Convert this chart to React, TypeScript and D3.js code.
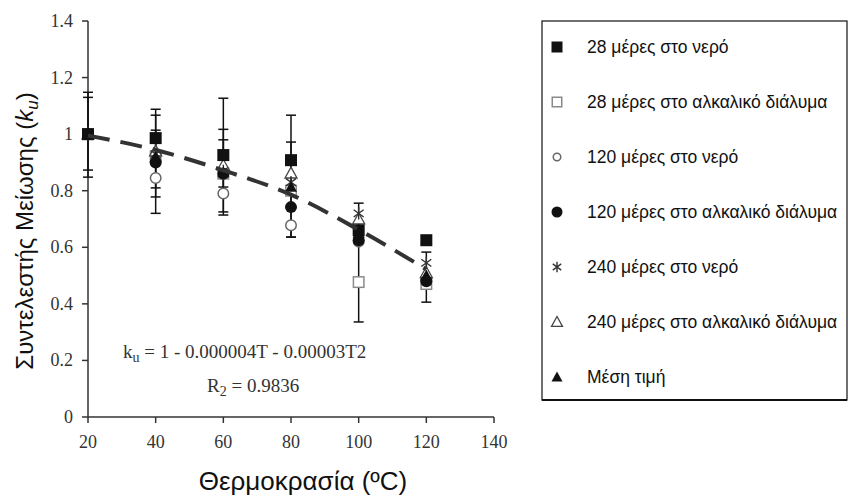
import React from "react";
import * as d3 from "d3";

// ---- data ----
const temps = [20, 40, 60, 80, 100, 120];
const s28Water = [1.0, 0.986, 0.926, 0.908, 0.66, 0.625];
const s28Alk = [1.0, 0.92, 0.86, 0.8, 0.477, 0.47];
const s120Water = [1.0, 0.845, 0.79, 0.678, 0.62, 0.49];
const s120Alk = [1.0, 0.9, 0.86, 0.742, 0.625, 0.48];
const s240Water = [1.0, 0.93, 0.87, 0.83, 0.72, 0.545];
const s240Alk = [1.0, 0.94, 0.89, 0.862, 0.7, 0.51];
const sMean = [1.0, 0.92, 0.865, 0.813, 0.65, 0.5];

const errT = [20, 20, 40, 40, 40, 60, 60, 60, 80, 80, 100, 120];
const errLow = [0.848, 0.873, 0.72, 0.778, 0.81, 0.714, 0.725, 0.813, 0.636, 0.636, 0.336, 0.406];
const errHigh = [1.148, 1.13, 1.088, 1.067, 1.014, 1.127, 1.017, 0.98, 1.067, 0.972, 0.756, 0.583];

const fitT = [20, 40, 60, 80, 100, 120];
const fitK = [0.995, 0.944, 0.872, 0.786, 0.662, 0.522];

const xTicks = [20, 40, 60, 80, 100, 120, 140];
const yTicks = [0, 0.2, 0.4, 0.6, 0.8, 1.0, 1.2, 1.4];
const yTickLabels = ["0", "0.2", "0.4", "0.6", "0.8", "1", "1.2", "1.4"];

const legendLabels = [
  "28 μέρες στο νερό",
  "28 μέρες στο αλκαλικό διάλυμα",
  "120 μέρες στο νερό",
  "120 μέρες στο αλκαλικό διάλυμα",
  "240 μέρες στο νερό",
  "240 μέρες στο αλκαλικό διάλυμα",
  "Μέση τιμή",
];
const seriesSymbols = ["fsquare", "osquare", "ocircle", "fcircle", "aster", "otri", "ftri"];
const seriesValues = [s28Water, s28Alk, s120Water, s120Alk, s240Water, s240Alk, sMean];
// draw order (back to front)
const drawOrder = [1, 2, 5, 4, 3, 6, 0];

const W = 849;
const H = 500;
const x = d3.scaleLinear().domain([20, 140]).range([88, 494]);
const y = d3.scaleLinear().domain([0, 1.4]).range([417, 21]);

function Marker({ kind, cx, cy, s }: { kind: string; cx: number; cy: number; s: number }) {
  const h = s / 2;
  switch (kind) {
    case "fsquare":
      return <rect x={cx - h} y={cy - h} width={s} height={s} fill="#111" />;
    case "osquare":
      return <rect x={cx - h + 0.75} y={cy - h + 0.75} width={s - 1.5} height={s - 1.5} fill="white" stroke="#8a8a8a" strokeWidth={1.5} />;
    case "ocircle":
      return <circle cx={cx} cy={cy} r={h - 0.75} fill="white" stroke="#666" strokeWidth={1.5} />;
    case "fcircle":
      return <circle cx={cx} cy={cy} r={h} fill="#111" />;
    case "aster": {
      const a = h * 0.95;
      const dx = a * Math.cos(Math.PI / 5);
      const dy = a * Math.sin(Math.PI / 5);
      const p = `M${cx},${cy - a}L${cx},${cy + a}M${cx - dx},${cy - dy}L${cx + dx},${cy + dy}M${cx - dx},${cy + dy}L${cx + dx},${cy - dy}`;
      return <path d={p} stroke="#333" strokeWidth={1.4} fill="none" />;
    }
    case "otri": {
      const p = `M${cx},${cy - h}L${cx + h},${cy + h * 0.8}L${cx - h},${cy + h * 0.8}Z`;
      return <path d={p} fill="white" stroke="#444" strokeWidth={1.3} />;
    }
    case "ftri": {
      const p = `M${cx},${cy - h}L${cx + h},${cy + h * 0.8}L${cx - h},${cy + h * 0.8}Z`;
      return <path d={p} fill="#111" />;
    }
  }
  return null;
}

export default function App() {
  const fitLine = d3
    .line<number>()
    .x((_, i) => x(fitT[i]))
    .y((d) => y(d))
    .curve(d3.curveMonotoneX)(fitK) as string;

  const legendX = 557;
  const textX = 587;
  const base0 = 53;
  const step = 55;

  return (
    <svg
      width={W}
      height={H}
      style={{ position: "absolute", left: 0, top: 0, background: "white" }}
      xmlns="http://www.w3.org/2000/svg"
    >
      <rect x={0} y={0} width={W} height={H} fill="white" />
      {/* axes */}
      <g stroke="#333" strokeWidth={1.5} fill="none">
        <line x1={x(20)} y1={y(0)} x2={x(140)} y2={y(0)} />
        <line x1={x(20)} y1={y(0)} x2={x(20)} y2={y(1.4)} />
        {xTicks.map((t) => (
          <line key={"xt" + t} x1={x(t)} x2={x(t)} y1={y(0)} y2={y(0) + 6} />
        ))}
        {yTicks.map((t) => (
          <line key={"yt" + t} x1={x(20) - 6} x2={x(20)} y1={y(t)} y2={y(t)} />
        ))}
      </g>
      <g fontFamily="'Liberation Serif', 'Times New Roman', serif" fontSize={18} fill="#333">
        {xTicks.map((t) => (
          <text key={"xl" + t} x={x(t)} y={y(0) + 31} textAnchor="middle">
            {t}
          </text>
        ))}
        {yTicks.map((t, i) => (
          <text key={"yl" + t} x={x(20) - 15} y={y(t) + 6} textAnchor="end">
            {yTickLabels[i]}
          </text>
        ))}
      </g>
      {/* axis titles */}
      <text
        x={303}
        y={490}
        textAnchor="middle"
        fontFamily="'Liberation Sans', Arial, sans-serif"
        fontSize={26}
        fill="#111"
      >
        Θερμοκρασία (ºC)
      </text>
      <text
        transform="translate(33,231) rotate(-90)"
        textAnchor="middle"
        fontFamily="'Liberation Sans', Arial, sans-serif"
        fontSize={24}
        fill="#111"
      >
        Συντελεστής Μείωσης (<tspan fontStyle="italic">k</tspan>
        <tspan fontStyle="italic" fontSize={17} dy={5}>u</tspan>
        <tspan dy={-5}>)</tspan>
      </text>

      {/* error bars */}
      <g stroke="#111" strokeWidth={1.5}>
        {errT.map((t, i) => (
          <g key={"e" + i}>
            <line x1={x(t)} x2={x(t)} y1={y(errLow[i])} y2={y(errHigh[i])} />
            <line x1={x(t) - 5} x2={x(t) + 5} y1={y(errLow[i])} y2={y(errLow[i])} />
            <line x1={x(t) - 5} x2={x(t) + 5} y1={y(errHigh[i])} y2={y(errHigh[i])} />
          </g>
        ))}
      </g>

      {/* markers */}
      {drawOrder.map((si) =>
        seriesValues[si].map((v, i) => (
          <Marker key={si + "-" + i} kind={seriesSymbols[si]} cx={x(temps[i])} cy={y(v)} s={si === 4 ? 13 : 12} />
        ))
      )}

      {/* fit line */}
      <path d={fitLine} fill="none" stroke="#333" strokeWidth={4} strokeDasharray="22 11" />

      {/* equation */}
      <g fontFamily="'Liberation Serif', 'Times New Roman', serif" fontSize={19} fill="#333">
        <text x={123} y={358}>
          k<tspan fontSize={14} dy={4}>u</tspan>
          <tspan dy={-4}> = 1 - 0.000004T - 0.00003T2</tspan>
        </text>
        <text x={207} y={392}>
          R<tspan fontSize={14} dy={4}>2</tspan>
          <tspan dy={-4}> = 0.9836</tspan>
        </text>
      </g>

      {/* legend */}
      <rect x={542} y={21} width={305} height={379} fill="none" stroke="#111" strokeWidth={1.2} />
      <line x1={542} x2={847} y1={400} y2={400} stroke="#111" strokeWidth={2.2} />
      {legendLabels.map((lab, i) => {
        const by = base0 + i * step;
        return (
          <g key={"lg" + i}>
            <Marker kind={seriesSymbols[i]} cx={legendX} cy={by - 6} s={i === 2 ? 9 : 11} />
            <text x={textX} y={by} fontFamily="'Liberation Sans', Arial, sans-serif" fontSize={17.5} fill="#111">
              {lab}
            </text>
          </g>
        );
      })}
    </svg>
  );
}
